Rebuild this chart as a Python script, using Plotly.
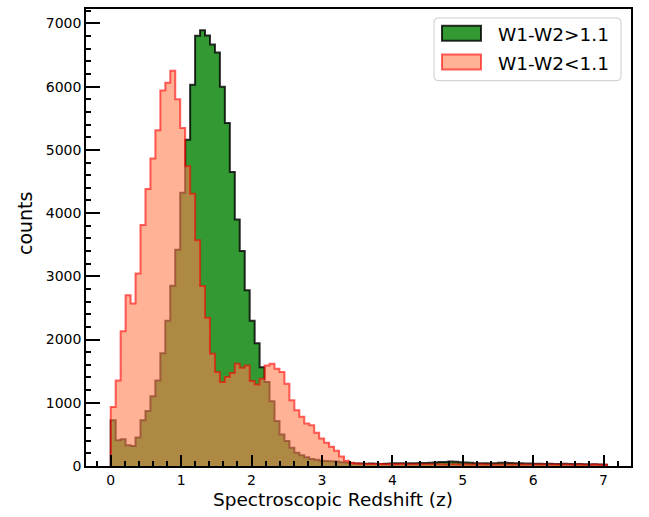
import plotly.graph_objects as go

# Histogram binning (100 bins from z=0 to z~7.05)
bin_width = 0.0705
n_bins = 100
bin_edges = [round(i * bin_width, 5) for i in range(n_bins + 1)]

# Counts per bin, W1-W2 > 1.1 (green)
counts_high = [
    724, 409, 425, 330, 315, 451, 724, 871, 1102, 1354,
    1785, 2299, 2850, 3420, 4320, 5161, 6030, 6803, 6893, 6810,
    6667, 6541, 6000, 5423, 4651, 3900, 3402, 2780, 2299, 1940,
    1560, 1328, 1025, 710, 500, 395, 290, 210, 170, 140,
    110, 100, 84, 80, 75, 70, 60, 55, 45, 40,
    38, 36, 38, 35, 33, 35, 40, 42, 45, 40,
    44, 42, 46, 48, 50, 55, 62, 65, 70, 68,
    60, 55, 50, 45, 42, 44, 40, 45, 50, 52,
    48, 45, 42, 40, 38, 35, 35, 33, 36, 32,
    30, 34, 30, 28, 30, 27, 25, 26, 24, 20,
]

# Counts per bin, W1-W2 < 1.1 (salmon)
counts_low = [
    934, 1354, 2130, 2700, 2570, 3045, 3811, 4380, 4865, 5310,
    5940, 6063, 6252, 5800, 5344, 4740, 4304, 3570, 2845, 2345,
    1774, 1486, 1330, 1407, 1470, 1617, 1554, 1590, 1344, 1290,
    1380, 1590, 1617, 1538, 1486, 1302, 1039, 882, 777, 672,
    646, 525, 436, 367, 304, 240, 150, 84, 50, 40,
    35, 33, 32, 30, 31, 29, 30, 28, 30, 29,
    28, 27, 28, 26, 27, 28, 26, 25, 27, 26,
    25, 26, 24, 25, 26, 24, 25, 24, 25, 23,
    24, 25, 23, 24, 22, 23, 24, 22, 23, 22,
    21, 22, 23, 21, 22, 20, 21, 22, 20, 20,
]

x_ticks = [0, 1, 2, 3, 4, 5, 6, 7]
y_ticks = [0, 1000, 2000, 3000, 4000, 5000, 6000, 7000]
labels = ["W1-W2>1.1", "W1-W2<1.1"]

fills = ["rgba(0,128,0,0.8)", "rgba(255,127,80,0.6)"]
edges_col = ["rgba(0,0,0,0.8)", "rgba(255,0,0,0.6)"]


def step_xy(edges, counts):
    xs = [edges[0]] + list(edges)
    ys = [0] + list(counts) + [0]
    return xs, ys


fig = go.Figure()
for counts, lab, fc, ec in zip([counts_high, counts_low], labels, fills, edges_col):
    xs, ys = step_xy(bin_edges, counts)
    fig.add_trace(go.Scatter(
        x=xs, y=ys, mode="lines", line_shape="hv", fill="tozeroy",
        fillcolor=fc, line=dict(color=ec, width=2), name=lab, showlegend=False,
    ))

font_family = "DejaVu Sans"

# plot area in pixels: x 86..631, y 7..466
L, R, T, B = 86, 631, 7, 466


def px_x(p):
    return (p - L) / (R - L)


def px_y(p):
    return (B - p) / (B - T)


# manual legend (matplotlib-like)
bx0, bx1, by0, by1 = px_x(434), px_x(621), px_y(79), px_y(16)
rx, ry = 4 / (R - L), 4 / (B - T)
legend_path = (
    f"M {bx0+rx},{by1} L {bx1-rx},{by1} Q {bx1},{by1} {bx1},{by1-ry} "
    f"L {bx1},{by0+ry} Q {bx1},{by0} {bx1-rx},{by0} "
    f"L {bx0+rx},{by0} Q {bx0},{by0} {bx0},{by0+ry} "
    f"L {bx0},{by1-ry} Q {bx0},{by1} {bx0+rx},{by1} Z"
)
shapes = [dict(type="path", path=legend_path, xref="paper", yref="paper",
               fillcolor="rgba(255,255,255,0.8)", line=dict(color="#cccccc", width=1))]
annotations = []
row_centers = [31.3, 60.3]
for i, (lab, fc, ec) in enumerate(zip(labels, fills, edges_col)):
    cy = row_centers[i]
    shapes.append(dict(type="rect", xref="paper", yref="paper",
                       x0=px_x(442), x1=px_x(481), y0=px_y(cy + 7.5), y1=px_y(cy - 7.5),
                       fillcolor=fc, line=dict(color=ec, width=2)))
    annotations.append(dict(text=lab, xref="paper", yref="paper",
                            x=px_x(496), y=px_y(cy + 1), xanchor="left", yanchor="middle",
                            showarrow=False,
                            font=dict(size=18.5, family=font_family, color="black")))

annotations += [
    dict(text="Spectroscopic Redshift (z)", xref="paper", yref="paper",
         x=px_x(333), y=px_y(500), xanchor="center", yanchor="middle", showarrow=False,
         font=dict(size=18.5, family=font_family, color="black")),
    dict(text="counts", xref="paper", yref="paper", textangle=-90,
         x=px_x(25), y=px_y(222), xanchor="center", yanchor="middle", showarrow=False,
         font=dict(size=19, family=font_family, color="black")),
]

fig.update_layout(
    width=649, height=517,
    margin=dict(l=L, r=649 - R, t=T, b=517 - B),
    paper_bgcolor="white", plot_bgcolor="white",
    font=dict(family=font_family, color="black", size=14),
    showlegend=False,
    xaxis=dict(
        range=[-0.351, 7.39], tickvals=x_ticks, ticktext=[str(v) for v in x_ticks],
        ticks="inside", ticklen=11, tickwidth=2, tickcolor="black",
        showline=True, linecolor="black", linewidth=1.5, mirror=True,
        showgrid=False, zeroline=False,
        minor=dict(dtick=0.2, tick0=0, ticks="inside", ticklen=5, tickwidth=1.5, tickcolor="black"),
        tickfont=dict(size=14, family=font_family),
    ),
    yaxis=dict(
        range=[0, 7228], tickvals=y_ticks, ticktext=[str(v) for v in y_ticks],
        ticks="inside", ticklen=14, tickwidth=2, tickcolor="black",
        showline=True, linecolor="black", linewidth=1.5, mirror=True,
        showgrid=False, zeroline=False,
        minor=dict(dtick=200, tick0=0, ticks="inside", ticklen=5, tickwidth=1.5, tickcolor="black"),
        tickfont=dict(size=14, family=font_family),
    ),
    shapes=shapes,
    annotations=annotations,
)

fig.write_html("out.html")
